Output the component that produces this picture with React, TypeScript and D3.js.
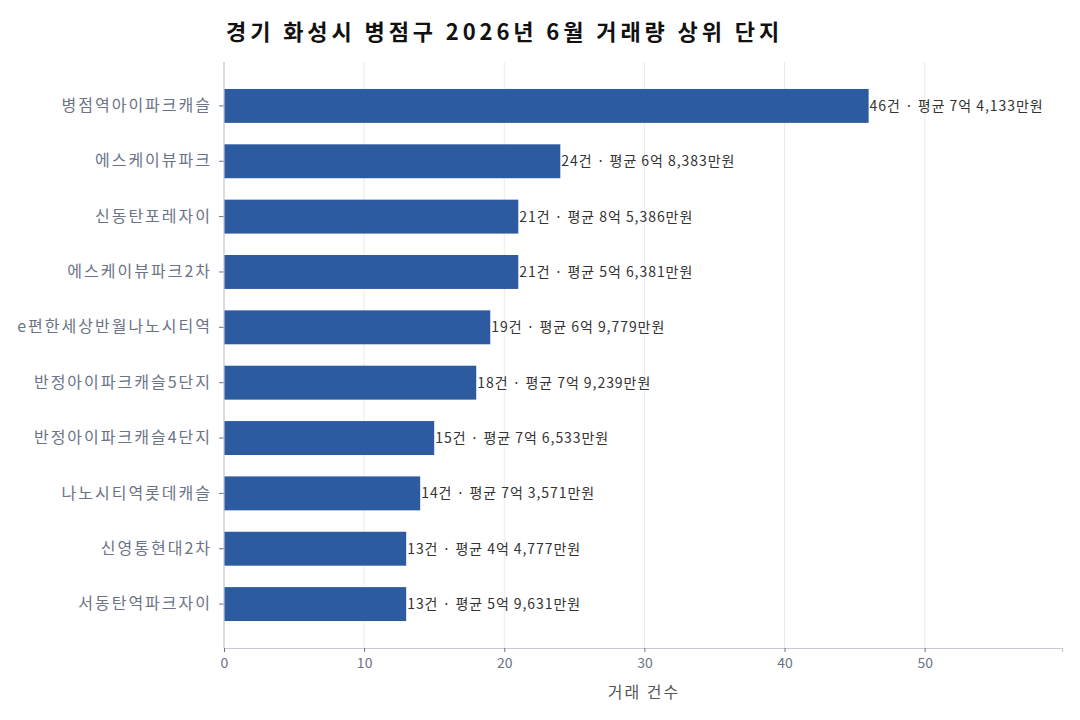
import { useRef, useEffect } from 'react';
import * as d3 from 'd3';

const complexes = [
  '병점역아이파크캐슬',
  '에스케이뷰파크',
  '신동탄포레자이',
  '에스케이뷰파크2차',
  'e편한세상반월나노시티역',
  '반정아이파크캐슬5단지',
  '반정아이파크캐슬4단지',
  '나노시티역롯데캐슬',
  '신영통현대2차',
  '서동탄역파크자이',
];
const counts = [46, 24, 21, 21, 19, 18, 15, 14, 13, 13];
const avgPrices = [
  '7억 4,133만원',
  '6억 8,383만원',
  '8억 5,386만원',
  '5억 6,381만원',
  '6억 9,779만원',
  '7억 9,239만원',
  '7억 6,533만원',
  '7억 3,571만원',
  '4억 4,777만원',
  '5억 9,631만원',
];
const xTicks = [0, 10, 20, 30, 40, 50];

const W = 1080;
const H = 720;
const margin = { top: 62, right: 18, bottom: 72, left: 224 };
const FONT = '"Noto Sans CJK KR", "Noto Sans", sans-serif';

export default function App() {
  const svgRef = useRef<SVGSVGElement>(null);

  useEffect(() => {
    if (!svgRef.current) return;
    const svg = d3.select(svgRef.current);
    svg.selectAll('*').remove();

    const innerW = W - margin.left - margin.right;
    const innerH = H - margin.top - margin.bottom;

    const x = d3.scaleLinear().domain([0, d3.max(counts)! * 1.3]).range([0, innerW]);
    const y = d3
      .scaleBand<string>()
      .domain(complexes)
      .range([0, innerH])
      .paddingInner(0.387)
      .paddingOuter(0.487);

    const g = svg.append('g').attr('transform', `translate(${margin.left},${margin.top})`);

    // gridlines
    g.selectAll('line.grid')
      .data(xTicks)
      .join('line')
      .attr('class', 'grid')
      .attr('x1', (d) => x(d))
      .attr('x2', (d) => x(d))
      .attr('y1', 0)
      .attr('y2', innerH)
      .attr('stroke', '#ebebeb')
      .attr('stroke-width', 1);

    // bars
    g.selectAll('rect.bar')
      .data(complexes)
      .join('rect')
      .attr('class', 'bar')
      .attr('x', 0)
      .attr('y', (d) => y(d)!)
      .attr('width', (_, i) => x(counts[i]))
      .attr('height', y.bandwidth())
      .attr('fill', '#2c5ba0');

    // value labels
    g.selectAll('text.val')
      .data(complexes)
      .join('text')
      .attr('class', 'val')
      .attr('x', (_, i) => x(counts[i]) + 1)
      .attr('y', (d) => y(d)! + y.bandwidth() / 2)
      .attr('dy', '0.35em')
      .attr('font-family', FONT)
      .attr('font-size', 14)
      .attr('letter-spacing', 0.95)
      .attr('fill', '#333')
      .text((_, i) => `${counts[i]}건 · 평균 ${avgPrices[i]}`);

    // y axis
    const yAxis = g.append('g').call(d3.axisLeft(y).tickSize(5).tickPadding(7));
    yAxis.select('.domain').remove();
    yAxis.selectAll('line').attr('stroke', '#6b7385');
    yAxis
      .selectAll('text')
      .attr('font-family', FONT)
      .attr('font-size', 16)
      .attr('letter-spacing', 2)
      .attr('fill', '#6b7385');
    g.append('line')
      .attr('x1', 0)
      .attr('x2', 0)
      .attr('y1', 0)
      .attr('y2', innerH)
      .attr('stroke', '#c5cad6')
      .attr('stroke-width', 1.2);

    // x axis
    const xAxis = g
      .append('g')
      .attr('transform', `translate(0,${innerH})`)
      .call(d3.axisBottom(x).tickValues(xTicks).tickSize(4).tickPadding(6));
    xAxis.select('.domain').attr('stroke', '#c5cad6').attr('stroke-width', 1.2);
    xAxis.selectAll('line').attr('stroke', '#6b7385');
    xAxis
      .selectAll('text')
      .attr('font-family', FONT)
      .attr('font-size', 14)
      .attr('fill', '#6b7385');

    g.append('text')
      .attr('x', innerW / 2 + 1)
      .attr('y', innerH + 50)
      .attr('text-anchor', 'middle')
      .attr('font-family', FONT)
      .attr('font-size', 16)
      .attr('letter-spacing', 2)
      .attr('fill', '#555')
      .text('거래 건수');

    svg
      .append('text')
      .attr('x', 226)
      .attr('y', 40)
      .attr('font-family', FONT)
      .attr('font-size', 22)
      .attr('font-weight', 'bold')
      .attr('letter-spacing', 3.9)
      .attr('fill', '#111')
      .text('경기 화성시 병점구 2026년 6월 거래량 상위 단지');
  }, []);

  return (
    <svg
      ref={svgRef}
      width={W}
      height={H}
      style={{ position: 'absolute', left: 0, top: 0, background: '#fff' }}
    />
  );
}
